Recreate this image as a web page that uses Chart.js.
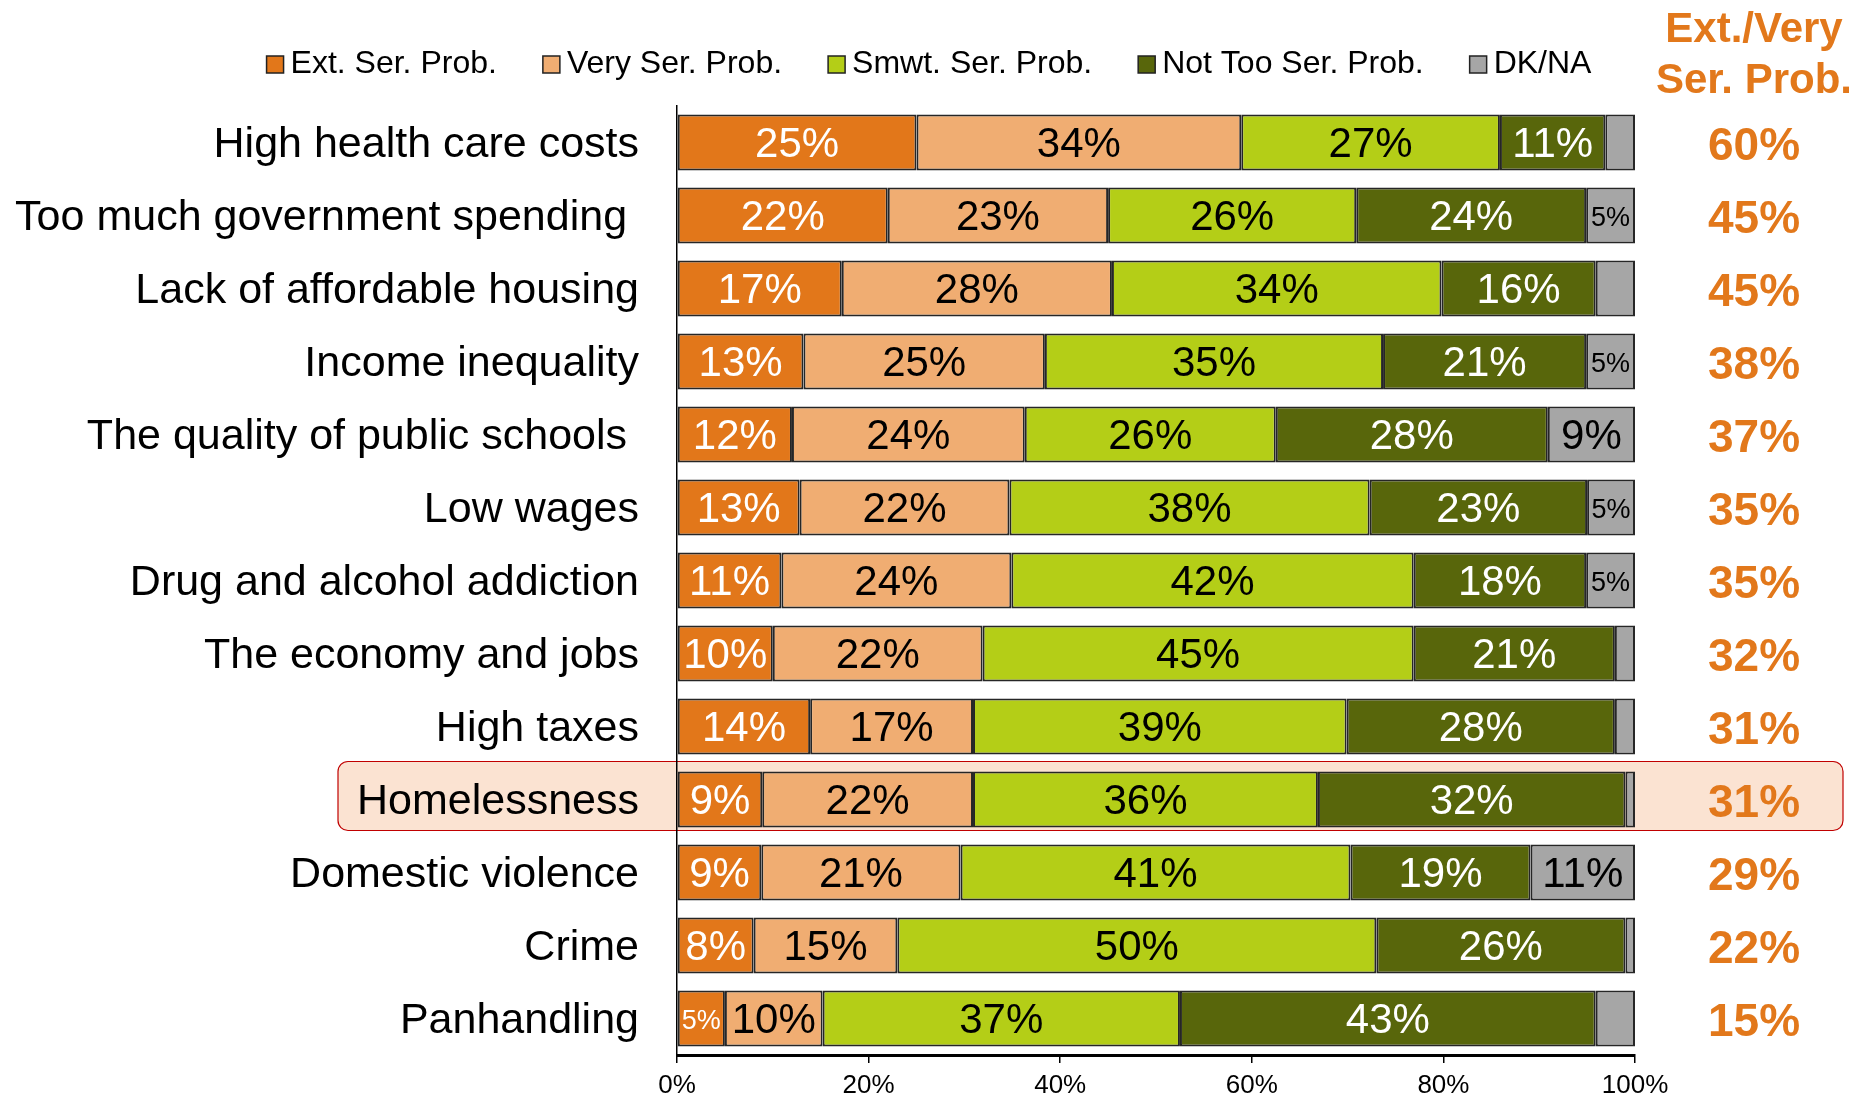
<!DOCTYPE html>
<html>
<head>
<meta charset="utf-8">
<script src="https://cdn.jsdelivr.net/npm/chart.js@4/dist/chart.umd.min.js"></script>
<style>
  body { margin: 0; background: #fff; }
  #wrap { width: 1870px; height: 1097px; }
</style>
</head>
<body>
<div id="wrap"><canvas id="chart" width="1870" height="1097"></canvas></div>
<script>
// categories, top to bottom
const issues = [
    "High health care costs",
    "Too much government spending ",
    "Lack of affordable housing",
    "Income inequality",
    "The quality of public schools ",
    "Low wages",
    "Drug and alcohol addiction",
    "The economy and jobs",
    "High taxes",
    "Homelessness",
    "Domestic violence",
    "Crime",
    "Panhandling"
];

// % of respondents
const extSerious   = [25.0, 22.0, 17.2, 13.2, 12.0, 12.8, 10.9, 10.0, 13.9, 8.9, 8.8, 8.0, 5.0];
const verySerious  = [33.9, 23.0, 28.2, 25.2, 24.3, 21.9, 24.0, 21.9, 17.0, 22.0, 20.8, 15.0, 10.2];
const smwtSerious  = [27.0, 25.9, 34.4, 35.3, 26.2, 37.6, 42.0, 45.0, 39.0, 36.0, 40.7, 50.0, 37.3];
const notTooSerious = [11.0, 24.0, 16.1, 21.2, 28.4, 22.7, 18.0, 21.0, 28.0, 32.1, 18.8, 26.0, 43.4];
const dkNa         = [3.1, 5.1, 4.1, 5.1, 9.1, 5.0, 5.1, 2.1, 2.1, 1.0, 10.9, 1.0, 4.1];

// right-hand column "Ext./Very Ser. Prob."
const extVery = [60, 45, 45, 38, 37, 35, 35, 32, 31, 31, 29, 22, 15];

const xTicks = [0, 20, 40, 60, 80, 100];
const highlightRow = "Homelessness";

const FONT = "'Liberation Sans', Arial, Helvetica, sans-serif";
const ORANGE = "#E2781B";

const series = [
    { label: "Ext. Ser. Prob.", data: extSerious, color: "#E2771A", text: "#fff" },
    { label: "Very Ser. Prob.", data: verySerious, color: "#F0AD72", text: "#000" },
    { label: "Smwt. Ser. Prob.", data: smwtSerious, color: "#B4CE17", text: "#000" },
    { label: "Not Too Ser. Prob.", data: notTooSerious, color: "#58660B", text: "#fff" },
    { label: "DK/NA", data: dkNa, color: "#A6A6A6", text: "#000" }
];

const overlay = {
    id: 'overlay',
    beforeDraw(chart) {
        // peach band behind the highlighted row
        const ctx = chart.ctx;
        const y = chart.scales.y.getPixelForValue(issues.indexOf(highlightRow));
        ctx.save();
        ctx.beginPath();
        ctx.roundRect(338, y - 38, 1843 - 338, 69, 10);
        ctx.fillStyle = "#FBE3D2";
        ctx.fill();
        ctx.lineWidth = 1.2;
        ctx.strokeStyle = "#C00000";
        ctx.stroke();
        ctx.restore();
    },
    afterDatasetsDraw(chart) {
        const ctx = chart.ctx;
        ctx.save();
        ctx.textAlign = 'center';
        ctx.textBaseline = 'middle';
        chart.data.datasets.forEach((ds, i) => {
            const meta = chart.getDatasetMeta(i);
            meta.data.forEach((bar, j) => {
                const v = Math.round(ds.data[j]);
                if (v < 5) return;
                ctx.font = (v === 5 ? "27px " : "42px ") + FONT;
                ctx.fillStyle = series[i].text;
                ctx.fillText(v + "%", (bar.x + bar.base) / 2, bar.y + 3);
            });
        });
        ctx.restore();
    },
    afterDraw(chart) {
        const ctx = chart.ctx;
        ctx.save();

        // legend
        ctx.font = "32px " + FONT;
        ctx.textBaseline = 'middle';
        ctx.textAlign = 'left';
        const widths = series.map(s => 24 + ctx.measureText(s.label).width);
        const total = widths.reduce((a, b) => a + b, 0) + 46 * (series.length - 1);
        let lx = 929 - total / 2;
        series.forEach((s, i) => {
            ctx.fillStyle = s.color;
            ctx.fillRect(lx, 56, 17, 17);
            ctx.lineWidth = 1.5;
            ctx.strokeStyle = "#222";
            ctx.strokeRect(lx, 56, 17, 17);
            ctx.fillStyle = "#000";
            ctx.fillText(s.label, lx + 24, 64);
            lx += widths[i] + 46;
        });

        // right column
        ctx.textAlign = 'center';
        ctx.fillStyle = ORANGE;
        ctx.font = "bold 42px " + FONT;
        ctx.textBaseline = 'alphabetic';
        ctx.fillText("Ext./Very", 1754, 42);
        ctx.fillText("Ser. Prob.", 1754, 93);
        ctx.font = "bold 46px " + FONT;
        ctx.textBaseline = 'middle';
        const ys = chart.scales.y;
        extVery.forEach((v, j) => {
            ctx.fillText(v + "%", 1754, ys.getPixelForValue(j) + 5);
        });
        ctx.restore();
    }
};

new Chart(document.getElementById("chart"), {
    type: 'bar',
    data: {
        labels: issues,
        datasets: series.map(s => ({
            label: s.label,
            data: s.data,
            backgroundColor: s.color,
            borderColor: "#262626",
            borderWidth: 2,
            borderSkipped: false,
            categoryPercentage: 0.77,
            barPercentage: 1.0
        }))
    },
    options: {
        indexAxis: 'y',
        responsive: false,
        animation: false,
        devicePixelRatio: 1,
        layout: { padding: { top: 106, right: 235, bottom: 0, left: 0 } },
        plugins: {
            legend: { display: false },
            tooltip: { enabled: false }
        },
        scales: {
            x: {
                stacked: true,
                min: 0,
                max: 100,
                afterBuildTicks: s => { s.ticks = xTicks.map(v => ({ value: v })); },
                ticks: {
                    callback: v => v + "%",
                    color: "#000",
                    font: { family: FONT, size: 26 },
                    padding: 7,
                    maxRotation: 0
                },
                grid: { drawOnChartArea: false, drawTicks: true, tickLength: 8, color: "#000", lineWidth: 1.5 },
                border: { display: true, color: "#000", width: 3 },
                afterFit: s => { s.height = 42; s.paddingLeft = 0; s.paddingRight = 0; }
            },
            y: {
                stacked: true,
                ticks: {
                    color: "#000",
                    font: { family: FONT, size: 43 },
                    padding: 38,
                    labelOffset: 3,
                    autoSkip: false
                },
                grid: { display: false, drawTicks: false },
                border: { display: true, color: "#000", width: 1.5 },
                afterFit: s => { s.width = 677; s.paddingTop = 0; s.paddingBottom = 0; }
            }
        }
    },
    plugins: [overlay]
});
</script>
</body>
</html>
